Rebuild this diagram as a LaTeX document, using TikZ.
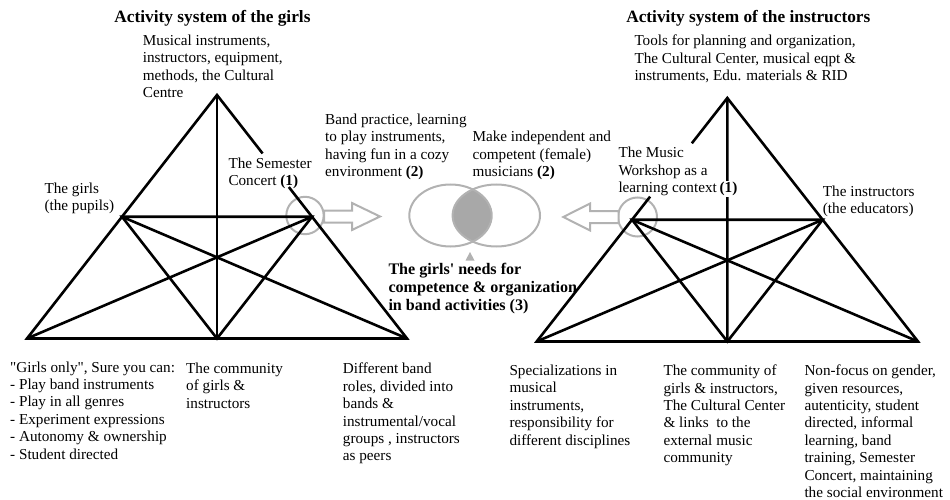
\documentclass[tikz,border=0pt]{standalone}
\usepackage{fontspec}
\setmainfont{Liberation Serif}[Ligatures=TeXOff]
\usetikzlibrary{calc}
\definecolor{lgray}{RGB}{178,178,178}
\definecolor{fgray}{RGB}{168,168,168}
\begin{document}
\begin{tikzpicture}[x=1pt,y=-1pt,
  tri/.style={line width=2.6pt, black},
  lbl/.style={anchor=north west, inner sep=0pt, align=left, font=\fontsize{15.2}{17.4}\selectfont},
  ttl/.style={anchor=base, inner sep=0pt, font=\fontsize{17.3}{20}\selectfont\bfseries},
  blbl/.style={anchor=north west, inner sep=0pt, align=left, font=\fontsize{16.1}{18}\selectfont\bfseries},
  gry/.style={draw=lgray, line width=2pt},
  hollow/.style={draw=lgray, fill=white, line width=2pt, line join=miter},
]
\useasboundingbox (0,0) rectangle (950,500);

% ---------- gray highlights ----------
\node[circle, gry, minimum size=37.4pt, inner sep=0pt] (C1) at (305,215.5) {};
\node[circle, gry, minimum size=39pt, inner sep=0pt] (C2) at (637.5,217) {};

\draw[hollow] (324,210.5) -- (352,210.5) -- (352,203) -- (380,216.5)
  -- (352,230) -- (352,222.5) -- (324,222.5) -- cycle;
\draw[hollow] (618.5,211) -- (590,211) -- (590,203.5) -- (563.3,217)
  -- (590,230.5) -- (590,223) -- (618.5,223) -- cycle;

% Venn
\begin{scope}
  \clip (450.5,215.5) ellipse [x radius=41.2pt, y radius=31pt];
  \fill[fgray] (496.3,215.5) ellipse [x radius=43.7pt, y radius=31pt];
\end{scope}
\draw[gry] (450.5,215.5) ellipse [x radius=41.2pt, y radius=31pt];
\draw[gry] (496.3,215.5) ellipse [x radius=43.7pt, y radius=31pt];
\fill[lgray] (470,252) -- (474.5,260.5) -- (465.5,260.5) -- cycle;

% ---------- left triangle ----------
\coordinate (A1) at (217,95);
\coordinate (BL1) at (27,338.5);
\coordinate (BR1) at (407,338.5);
\coordinate (ML1) at ($(A1)!0.5!(BL1)$);
\coordinate (MR1) at ($(A1)!0.5!(BR1)$);
\coordinate (MB1) at ($(BL1)!0.5!(BR1)$);
\coordinate (G1a) at ($(A1)!0.24!(BR1)$);
\coordinate (G1b) at ($(A1)!0.378!(BR1)$);
\draw[tri] (G1a) -- (A1) -- (BL1) -- (BR1) -- (G1b);
\draw[tri] (ML1) -- (MR1) -- (MB1) -- cycle;
\draw[tri] (A1) -- (MB1);
\draw[tri] (ML1) -- (BR1);
\draw[tri] (MR1) -- (BL1);

% ---------- right triangle ----------
\coordinate (A2) at (727.3,98);
\coordinate (BL2) at (536.7,341.5);
\coordinate (BR2) at (918,341.5);
\coordinate (ML2) at ($(A2)!0.5!(BL2)$);
\coordinate (MR2) at ($(A2)!0.5!(BR2)$);
\coordinate (MB2) at ($(BL2)!0.5!(BR2)$);
\coordinate (G2a) at ($(A2)!0.186!(BL2)$);
\coordinate (G2b) at ($(A2)!0.405!(BL2)$);
\draw[tri] (G2a) -- (A2) -- (BR2) -- (BL2) -- (G2b);
\draw[tri] (ML2) -- (MR2) -- (MB2) -- cycle;
\draw[tri] (A2) -- (MB2);
\draw[tri] (ML2) -- (BR2);
\draw[tri] (MR2) -- (BL2);

% ---------- titles ----------
\node[ttl] (T1) at (212.5,22.7) {Activity system of the girls};
\node[ttl] (T2) at (748.3,22.7) {Activity system of the instructors};

% ---------- left labels ----------
\node[lbl] (tool1) at (142.7,34.5) {Musical instruments,\\instructors, equipment,\\methods, the Cultural\\Centre};
\node[lbl] (obj1) at (228.3,157.4) {The Semester\\Concert \textbf{(1)}};
\node[lbl] (subj1) at (44.3,182.4) {The girls\\(the pupils)};
\node[lbl] (rules1) at (10,361.4) {"Girls only", Sure you can:\\- Play band instruments\\- Play in all genres\\- Experiment expressions\\- Autonomy \& ownership\\- Student directed};
\node[lbl] (comm1) at (186,362.7) {The community\\of girls \&\\instructors};
\node[lbl] (div1) at (342.7,363) {Different band\\roles, divided into\\bands \&\\instrumental/vocal\\groups , instructors\\as peers};

% ---------- centre labels ----------
\node[lbl] (out1) at (325,113.7) {Band practice, learning\\to play instruments,\\having fun in a cozy\\environment \textbf{(2)}};
\node[lbl] (out2) at (472.3,131.1) {Make independent and\\competent (female)\\musicians \textbf{(2)}};
\node[blbl] (shared) at (388.3,262.8) {The girls' needs for\\competence \& organization\\in band activities (3)};

% ---------- right labels ----------
\node[lbl] (tool2) at (634.3,34.7) {Tools for planning and organization,\\The Cultural Center, musical eqpt \&\\instruments, Edu. materials \& RID};
\node[lbl] (obj2) at (618.3,147.1) {The Music\\Workshop as a\\learning context\hspace{1.8pt}{\setlength{\fboxsep}{1pt}\colorbox{white}{\textbf{(1)}}}};
\node[lbl] (subj2) at (822.7,185.7) {The instructors\\(the educators)};
\node[lbl] (div2) at (509.3,364.7) {Specializations in\\musical\\instruments,\\responsibility for\\different disciplines};
\node[lbl] (comm2) at (663.3,364.7) {The community of\\girls \& instructors,\\The Cultural Center\\\& links~ to the\\external music\\community};
\node[lbl] (rules2) at (804.3,364.7) {Non-focus on gender,\\given resources,\\autenticity, student\\directed, informal\\learning, band\\training, Semester\\Concert, maintaining\\the social environment};
\end{tikzpicture}
\end{document}
